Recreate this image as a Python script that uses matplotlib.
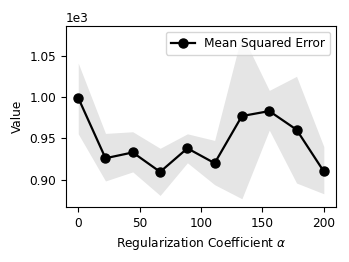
import numpy as np
import matplotlib
matplotlib.use("Agg")
import matplotlib.pyplot as plt

plt.rcParams['font.size'] = 8.7

alpha = [0, 22.2, 44.4, 66.7, 88.9, 111.1, 133.3, 155.6, 177.8, 200]
mse = [999, 926, 933, 909.5, 938, 920, 977, 983, 960.5, 910]
upper = [1041, 956, 958, 938, 955.5, 947.5, 1076, 1008, 1025, 940]
lower = [955.5, 898.5, 909.5, 881, 920.5, 894, 877, 960, 896, 883]

fig = plt.figure(figsize=(3.49, 2.62), dpi=100)
ax = fig.add_axes([0.189, 0.21, 0.774, 0.691])
ax.fill_between(alpha, lower, upper, color='#e5e5e5', linewidth=0)
ax.plot(alpha, mse, color='black', marker='o', markersize=6.5, linewidth=1.6,
        label='Mean Squared Error')
ax.ticklabel_format(axis='y', style='sci', scilimits=(3, 3))
ax.set_xlabel(r'Regularization Coefficient $\alpha$')
ax.set_ylabel('Value')
ax.legend(loc='upper right')
fig.savefig('out.png', dpi=100)
